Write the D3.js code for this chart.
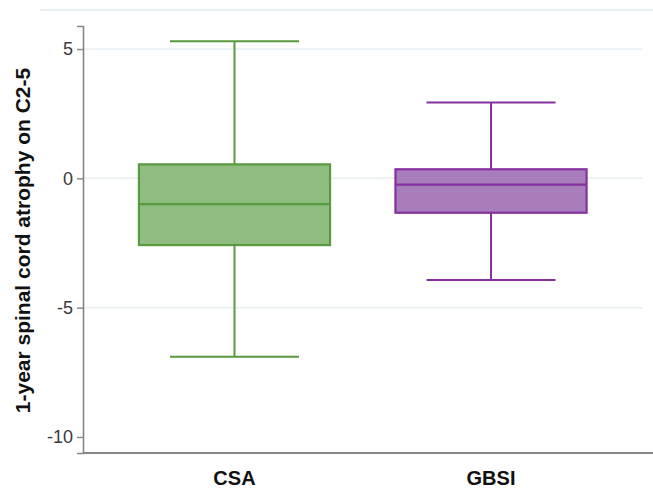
<!DOCTYPE html>
<html>
<head>
<meta charset="utf-8">
<script src="https://cdn.jsdelivr.net/npm/d3@7"></script>
<style>
  html, body { margin: 0; padding: 0; background: #fff; }
  svg { display: block; }
</style>
</head>
<body>
<svg id="chart" width="653" height="490"></svg>
<script>
// ---- data ----
const categories = ["CSA", "GBSI"];
const whiskerLow  = [-6.9, -3.93];
const q1          = [-2.58, -1.33];
const median      = [-1.0, -0.24];
const q3          = [0.54, 0.35];
const whiskerHigh = [5.3, 2.93];
const yTicks = [5, 0, -5, -10];
const yTickLabels = ["5", "0", "-5", "-10"];
const yTitle = "1-year spinal cord atrophy on C2-5";

const fills   = ["#8fbd80", "#a87dbb"];
const strokes = ["#5a9a3f", "#85309e"];

// ---- layout ----
const W = 653, H = 490;
const mLeft = 83, mRight = 642.5, mTop = 26, mBottom = 453;

const svg = d3.select("#chart");

const y = d3.scaleLinear().domain([-10.62, 5.89]).range([mBottom, mTop]);
const x = d3.scaleBand().domain(categories).range([mLeft, mRight]).padding(0.181);
const step = x.step();
const boxW = step * 0.745;
const capW = step * 0.503;

// top frame line
svg.append("line")
  .attr("x1", 40).attr("x2", W).attr("y1", 10).attr("y2", 10)
  .attr("stroke", "#eaf1f4").attr("stroke-width", 2);

// gridlines
svg.append("g").selectAll("line")
  .data(yTicks.filter(d => d > -10))
  .join("line")
  .attr("x1", mLeft).attr("x2", mRight)
  .attr("y1", d => y(d)).attr("y2", d => y(d))
  .attr("stroke", "#e6eef2").attr("stroke-width", 1.5);

// y axis
const yAxis = svg.append("g")
  .attr("transform", `translate(${mLeft},0)`)
  .call(d3.axisLeft(y).tickValues(yTicks).tickSize(6).tickPadding(4)
    .tickFormat((d, i) => yTickLabels[i]));
yAxis.select(".domain").attr("stroke", "#858585").attr("stroke-width", 1.6);
yAxis.selectAll(".tick line").attr("stroke", "#858585").attr("stroke-width", 1.4);
yAxis.selectAll(".tick text")
  .attr("font-family", "Liberation Sans, Arial, sans-serif")
  .attr("font-size", 18).attr("fill", "#3a3a3a");

// x axis
const xAxis = svg.append("g")
  .attr("transform", `translate(0,${mBottom})`)
  .call(d3.axisBottom(x).tickSize(0).tickPadding(18));
xAxis.select(".domain").attr("d", `M${mLeft},0H${W}`).attr("stroke", "#858585").attr("stroke-width", 2);
xAxis.selectAll(".tick text")
  .attr("font-family", "Liberation Sans, Arial, sans-serif")
  .attr("font-size", 20).attr("font-weight", "bold").attr("fill", "#111");

// y title
svg.append("text")
  .attr("transform", `translate(30,${(mTop + mBottom) / 2 + 1}) rotate(-90)`)
  .attr("text-anchor", "middle")
  .attr("font-family", "Liberation Sans, Arial, sans-serif")
  .attr("font-size", 21).attr("font-weight", "bold").attr("fill", "#111")
  .text(yTitle);

// boxes
const g = svg.append("g");
categories.forEach((c, i) => {
  const cx = x(c) + x.bandwidth() / 2;
  const gg = g.append("g").attr("stroke", strokes[i]).attr("stroke-width", 2);
  gg.append("line").attr("x1", cx).attr("x2", cx).attr("y1", y(q3[i])).attr("y2", y(whiskerHigh[i]));
  gg.append("line").attr("x1", cx).attr("x2", cx).attr("y1", y(q1[i])).attr("y2", y(whiskerLow[i]));
  gg.append("line").attr("x1", cx - capW / 2).attr("x2", cx + capW / 2).attr("y1", y(whiskerHigh[i])).attr("y2", y(whiskerHigh[i]));
  gg.append("line").attr("x1", cx - capW / 2).attr("x2", cx + capW / 2).attr("y1", y(whiskerLow[i])).attr("y2", y(whiskerLow[i]));
  gg.append("rect")
    .attr("x", cx - boxW / 2).attr("width", boxW)
    .attr("y", y(q3[i])).attr("height", y(q1[i]) - y(q3[i]))
    .attr("fill", fills[i]).attr("stroke-width", 2.2);
  gg.append("line").attr("x1", cx - boxW / 2).attr("x2", cx + boxW / 2)
    .attr("y1", y(median[i])).attr("y2", y(median[i])).attr("stroke-width", 2.2);
});
</script>
</body>
</html>
